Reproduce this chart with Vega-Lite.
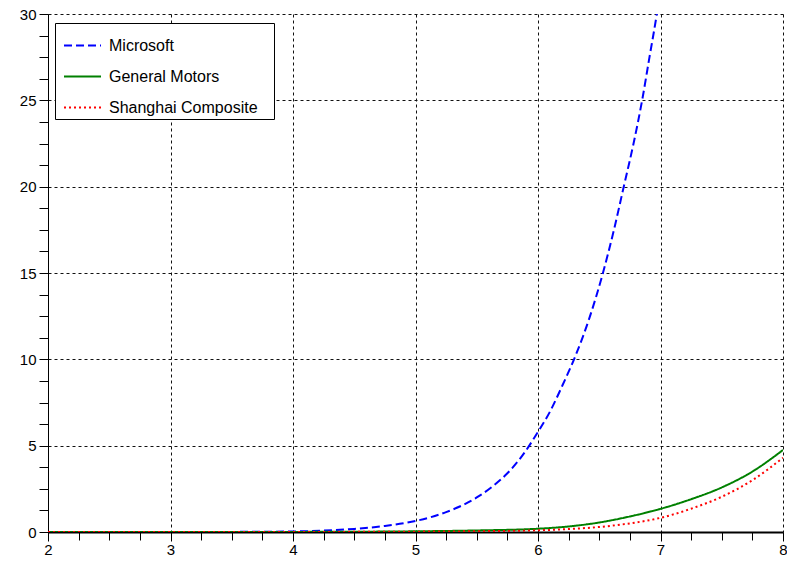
{
  "$schema": "https://vega.github.io/schema/vega-lite/v6.json",
  "width": 735,
  "height": 518,
  "autosize": {"type": "none"},
  "padding": {"left": 48, "top": 14, "right": 4, "bottom": 29},
  "background": "white",
  "config": {
    "view": {"stroke": null},
    "font": "Liberation Sans",
    "axis": {
      "title": null,
      "labelFont": "Liberation Sans",
      "labelFontSize": 15,
      "labelColor": "black",
      "domainColor": "black",
      "tickColor": "black",
      "grid": true,
      "gridColor": "#111",
      "gridDash": [3, 3],
      "gridWidth": 1
    },
    "legend": {
      "orient": "none",
      "legendX": 7,
      "legendY": 9,
      "fillColor": "white",
      "strokeColor": "black",
      "padding": 3,
      "symbolOffset": 5,
      "symbolType": "stroke",
      "symbolSize": 1369,
      "symbolStrokeWidth": 2,
      "labelFont": "Liberation Sans",
      "labelFontSize": 16,
      "labelColor": "black",
      "labelOffset": 7,
      "rowPadding": 3,
      "labelLimit": 400,
      "titleOrient": "right",
      "titlePadding": 0,
      "titleFontSize": 16,
      "titleFont": "DejaVu Sans"
    }
  },
  "data": {
    "values": [
      {"x": 2, "y": 0, "series": "Microsoft"},
      {"x": 2.5, "y": 0.0003, "series": "Microsoft"},
      {"x": 3, "y": 0.001, "series": "Microsoft"},
      {"x": 3.5, "y": 0.006, "series": "Microsoft"},
      {"x": 4, "y": 0.03, "series": "Microsoft"},
      {"x": 4.25, "y": 0.08, "series": "Microsoft"},
      {"x": 4.5, "y": 0.18, "series": "Microsoft"},
      {"x": 4.75, "y": 0.35, "series": "Microsoft"},
      {"x": 5, "y": 0.64, "series": "Microsoft"},
      {"x": 5.125, "y": 0.86, "series": "Microsoft"},
      {"x": 5.25, "y": 1.15, "series": "Microsoft"},
      {"x": 5.375, "y": 1.52, "series": "Microsoft"},
      {"x": 5.5, "y": 2.0, "series": "Microsoft"},
      {"x": 5.625, "y": 2.62, "series": "Microsoft"},
      {"x": 5.75, "y": 3.4, "series": "Microsoft"},
      {"x": 5.875, "y": 4.45, "series": "Microsoft"},
      {"x": 6, "y": 5.8, "series": "Microsoft"},
      {"x": 6.1, "y": 7.0, "series": "Microsoft"},
      {"x": 6.2, "y": 8.5, "series": "Microsoft"},
      {"x": 6.3, "y": 10.1, "series": "Microsoft"},
      {"x": 6.42, "y": 12.4, "series": "Microsoft"},
      {"x": 6.53, "y": 15, "series": "Microsoft"},
      {"x": 6.62, "y": 17.5, "series": "Microsoft"},
      {"x": 6.7, "y": 20, "series": "Microsoft"},
      {"x": 6.78, "y": 22.5, "series": "Microsoft"},
      {"x": 6.85, "y": 25, "series": "Microsoft"},
      {"x": 6.91, "y": 27.5, "series": "Microsoft"},
      {"x": 6.97, "y": 30, "series": "Microsoft"},
      {"x": 7.05, "y": 34, "series": "Microsoft"},
      {"x": 2, "y": 0, "series": "General Motors"},
      {"x": 3, "y": 0.001, "series": "General Motors"},
      {"x": 4, "y": 0.006, "series": "General Motors"},
      {"x": 4.5, "y": 0.015, "series": "General Motors"},
      {"x": 5, "y": 0.04, "series": "General Motors"},
      {"x": 5.5, "y": 0.09, "series": "General Motors"},
      {"x": 6, "y": 0.19, "series": "General Motors"},
      {"x": 6.25, "y": 0.32, "series": "General Motors"},
      {"x": 6.5, "y": 0.55, "series": "General Motors"},
      {"x": 6.75, "y": 0.9, "series": "General Motors"},
      {"x": 7, "y": 1.34, "series": "General Motors"},
      {"x": 7.25, "y": 1.9, "series": "General Motors"},
      {"x": 7.5, "y": 2.58, "series": "General Motors"},
      {"x": 7.75, "y": 3.5, "series": "General Motors"},
      {"x": 8, "y": 4.75, "series": "General Motors"},
      {"x": 2, "y": 0, "series": "Shanghai Composite"},
      {"x": 3, "y": 0.0005, "series": "Shanghai Composite"},
      {"x": 4, "y": 0.003, "series": "Shanghai Composite"},
      {"x": 5, "y": 0.02, "series": "Shanghai Composite"},
      {"x": 5.5, "y": 0.045, "series": "Shanghai Composite"},
      {"x": 6, "y": 0.1, "series": "Shanghai Composite"},
      {"x": 6.25, "y": 0.17, "series": "Shanghai Composite"},
      {"x": 6.5, "y": 0.29, "series": "Shanghai Composite"},
      {"x": 6.75, "y": 0.5, "series": "Shanghai Composite"},
      {"x": 7, "y": 0.82, "series": "Shanghai Composite"},
      {"x": 7.25, "y": 1.35, "series": "Shanghai Composite"},
      {"x": 7.5, "y": 2.04, "series": "Shanghai Composite"},
      {"x": 7.75, "y": 3.0, "series": "Shanghai Composite"},
      {"x": 8, "y": 4.3, "series": "Shanghai Composite"}
    ]
  },
  "mark": {"type": "line", "strokeWidth": 2, "clip": true, "interpolate": "monotone"},
  "encoding": {
    "x": {
      "field": "x",
      "type": "quantitative",
      "scale": {"domain": [2, 8], "nice": false, "zero": false},
      "axis": {
        "values": [2, 2.25, 2.5, 2.75, 3, 3.25, 3.5, 3.75, 4, 4.25, 4.5, 4.75, 5, 5.25, 5.5, 5.75, 6, 6.25, 6.5, 6.75, 7, 7.25, 7.5, 7.75, 8],
        "labelExpr": "datum.value % 1 === 0 ? format(datum.value, 'd') : ''",
        "gridOpacity": {"condition": {"test": "datum.value % 1 !== 0", "value": 0}, "value": 1},
        "tickSize": {"condition": {"test": "datum.value % 1 !== 0", "value": 8}, "value": 9},
        "domainWidth": 2,
        "labelPadding": 1,
        "labelFlush": false
      }
    },
    "y": {
      "field": "y",
      "type": "quantitative",
      "scale": {"domain": [0, 30], "nice": false},
      "axis": {
        "values": [0, 1.25, 2.5, 3.75, 5, 6.25, 7.5, 8.75, 10, 11.25, 12.5, 13.75, 15, 16.25, 17.5, 18.75, 20, 21.25, 22.5, 23.75, 25, 26.25, 27.5, 28.75, 30],
        "labelExpr": "datum.value % 5 === 0 ? format(datum.value, 'd') : ''",
        "gridOpacity": {"condition": {"test": "datum.value % 5 !== 0", "value": 0}, "value": 1},
        "tickSize": 9,
        "domainWidth": 1,
        "labelPadding": 3,
        "labelFlush": false
      }
    },
    "color": {
      "field": "series",
      "type": "nominal",
      "title": "\u2800",
      "scale": {"domain": ["Microsoft", "General Motors", "Shanghai Composite"], "range": ["#0000ff", "#008000", "#ff0000"]}
    },
    "strokeDash": {
      "field": "series",
      "type": "nominal",
      "title": "\u2800",
      "scale": {"domain": ["Microsoft", "General Motors", "Shanghai Composite"], "range": [[8, 4], [1, 0], [2, 3]]}
    }
  }
}
